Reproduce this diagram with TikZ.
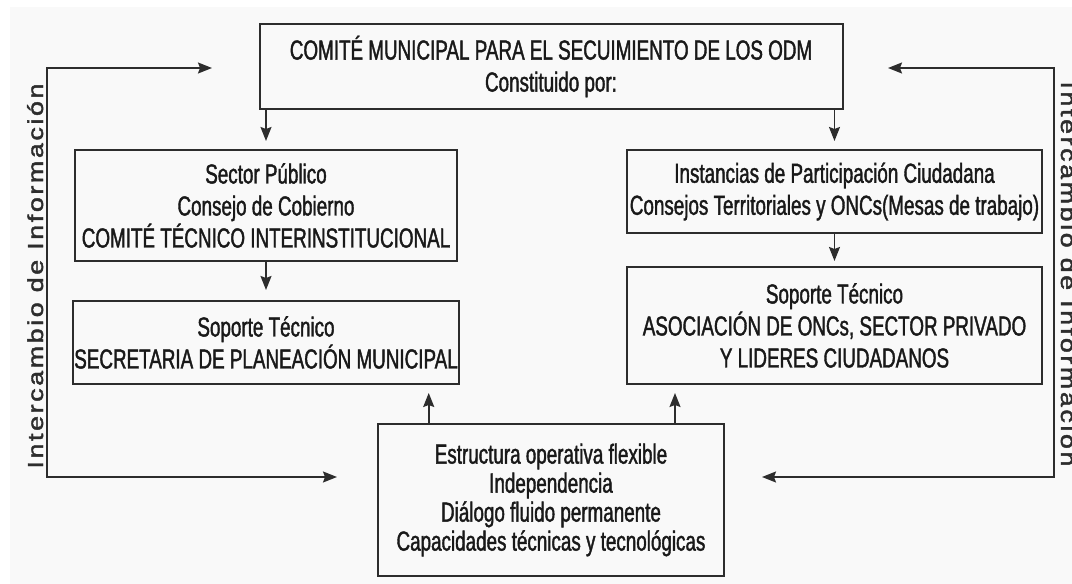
\documentclass[tikz,border=0pt]{standalone}
\definecolor{paperwhite}{RGB}{249,249,249}
\definecolor{inkgray}{RGB}{25,25,25}
\definecolor{framegray}{RGB}{45,45,45}
\definecolor{sidegray}{RGB}{45,45,45}
\usepackage{fontspec}
\setmainfont{Liberation Sans}
\newfontfamily\boxfont[FakeStretch=0.685,FakeBold=1.4]{Liberation Sans}
\newfontfamily\sidefont[FakeStretch=1.25,LetterSpace=12,FakeBold=2]{Liberation Sans}
\usetikzlibrary{arrows.meta}

\begin{document}
\begin{tikzpicture}[x=1pt,y=1pt,
    >={Stealth[length=14pt,width=11pt,inset=2pt]},
    orgbox/.style={draw=framegray, line width=2pt, align=center, inner sep=1pt,
        text=inkgray, font=\boxfont\fontsize{27.5}{32}\selectfont},
    flowarrow/.style={draw=framegray, line width=1.7pt, ->},
    sidelabel/.style={text=sidegray, inner sep=0pt, font=\sidefont\fontsize{21.5}{24}\selectfont}]
    \useasboundingbox (0,0) rectangle (1072,584);
    \fill[paperwhite] (10,0) rectangle (1072,577);

    \node[orgbox, minimum width=583pt, minimum height=85pt] (comite) at (551,517.5)
        {COMITÉ MUNICIPAL PARA EL SECUIMIENTO DE LOS ODM\\Constituido por:};
    \node[orgbox, minimum width=382pt, minimum height=111pt] (publico) at (266,378.5)
        {Sector Público\\Consejo de Cobierno\\COMITÉ TÉCNICO INTERINSTITUCIONAL};
    \node[orgbox, minimum width=382pt, minimum height=83pt] (planeacion) at (266,241.5)
        {Soporte Técnico\\SECRETARIA DE PLANEACIÓN MUNICIPAL};
    \node[orgbox, minimum width=415pt, minimum height=83pt] (ciudadana) at (834.5,392.5)
        {Instancias de Participación Ciudadana\\Consejos Territoriales y ONCs(Mesas de trabajo)};
    \node[orgbox, minimum width=415pt, minimum height=117pt] (asociacion) at (834.5,258.5)
        {Soporte Técnico\\ASOCIACIÓN DE ONCs, SECTOR PRIVADO\\Y LIDERES CIUDADANOS};
    \node[orgbox, minimum width=346pt, minimum height=152pt,
        font=\boxfont\fontsize{27.5}{29}\selectfont] (operativa) at (551,84)
        {Estructura operativa flexible\\Independencia\\Diálogo fluido permanente\\Capacidades técnicas y tecnológicas};

    \draw[flowarrow, shorten >=8pt] (comite.south -| publico.north) -- (publico.north);
    \draw[flowarrow, shorten >=10pt] (publico.south) -- (planeacion.north);
    \draw[flowarrow, shorten >=8pt] (comite.south -| ciudadana.north) -- (ciudadana.north);
    \draw[flowarrow, shorten >=5pt] (ciudadana.south) -- (asociacion.north);
    \draw[flowarrow, shorten >=8pt] ([xshift=-31pt]operativa.north -| planeacion.south east)
        -- ([xshift=-31pt]planeacion.south east);
    \draw[flowarrow, shorten >=8pt] ([xshift=49pt]operativa.north -| asociacion.south west)
        -- ([xshift=49pt]asociacion.south west);

    \coordinate (leftTop) at (47,516);
    \coordinate (leftBottom) at (47,107);
    \coordinate (leftTopTip) at (212,516);
    \coordinate (leftBottomTip) at (337,107);
    \coordinate (rightTop) at (1054,516);
    \coordinate (rightBottom) at (1054,107);
    \coordinate (rightTopTip) at (888,516);
    \coordinate (rightBottomTip) at (762,107);
    \draw[flowarrow, <->] (leftTopTip) -- (leftTop) -- (leftBottom) -- (leftBottomTip);
    \draw[flowarrow, <->] (rightTopTip) -- (rightTop) -- (rightBottom) -- (rightBottomTip);

    \node[sidelabel, rotate=90, anchor=base] (infoLeft) at (43,308) {Intercambio de Información};
    \node[sidelabel, rotate=-90, anchor=base] (infoRight) at (1061,310) {Intercambio de Información};
\end{tikzpicture}
\end{document}
